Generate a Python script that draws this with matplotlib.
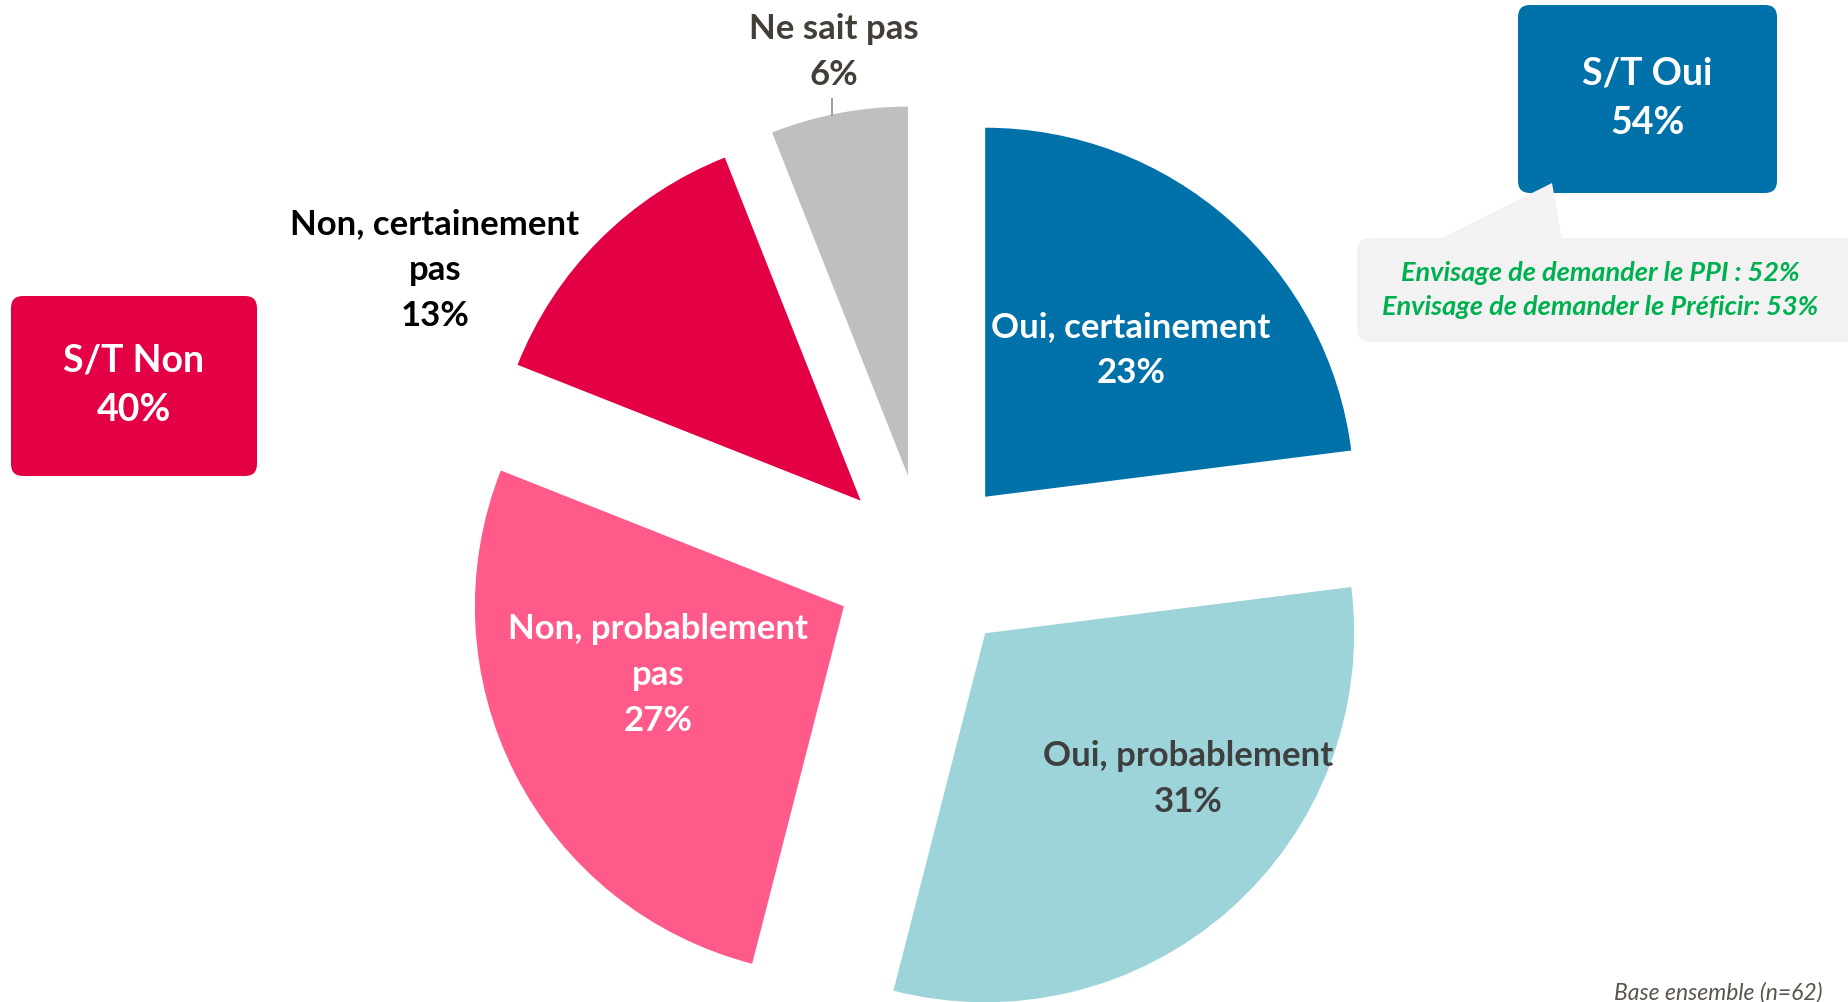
import matplotlib
matplotlib.use("Agg")
import matplotlib.pyplot as plt
from matplotlib.patches import FancyBboxPatch, Polygon

plt.rcParams['font.family'] = ['Lato', 'DejaVu Sans']

W, H = 1848, 1003

labels = ["Oui, certainement", "Oui, probablement", "Non, probablement\npas",
          "Non, certainement\npas", "Ne sait pas"]
values = [23, 31, 27, 13, 6]
colors = ["#0071A9", "#9CD4DA", "#FF5A8A", "#E30045", "#BFBFBF"]
text_colors = ["white", "#3F3F3F", "white", "black", "#433E38"]
# label anchors in pixel space (x, y from top)
label_pos = [(1131, 350), (1188, 779), (658, 675), (435, 270), (834, 52)]

summary_labels = ["S/T Non", "S/T Oui"]
summary_values = [40, 54]
summary_colors = ["#E30045", "#0071A9"]

sub_lines = ["Envisage de demander le PPI : 52%",
             "Envisage de demander le Préficir: 53%"]
base_note = "Base ensemble (n=62)"


def Y(y):
    return H - y


fig = plt.figure(figsize=(W / 100, H / 100), dpi=100)
ax = fig.add_axes([0, 0, 1, 1])

ax.pie(values, colors=colors, startangle=90, counterclock=False,
       explode=[91] * len(values), radius=369, center=(925, Y(566)),
       frame=True, wedgeprops=dict(linewidth=0))
ax.set_xlim(0, W)
ax.set_ylim(0, H)
ax.set_aspect('equal')
ax.axis('off')

for lab, v, c, (x, y) in zip(labels, values, text_colors, label_pos):
    ax.text(x, Y(y), f"{lab}\n{v}%", ha='center', va='center', color=c,
            fontsize=25, fontweight='bold', linespacing=1.52, zorder=5)

# leader for the small slice
ax.plot([832, 832], [Y(100), Y(116)], color='#8C8C8C', lw=1.2, zorder=4)

# summary boxes
boxes = [(11, 297, 246, 180), (1518, 6, 259, 188)]
for (bx, by, bw, bh), lab, v, c in zip(boxes, summary_labels, summary_values, summary_colors):
    ax.add_patch(FancyBboxPatch((bx, Y(by + bh)), bw, bh,
                                boxstyle="round,pad=0,rounding_size=12",
                                fc=c, ec='none', zorder=3))
    ax.text(bx + bw / 2, Y(by + bh / 2 - 2), f"{lab}\n{v}%", ha='center', va='center',
            color='white', fontsize=27, fontweight='bold', linespacing=1.55, zorder=5)

# grey callout under S/T Oui
ax.add_patch(FancyBboxPatch((1357, Y(343)), 520, 104,
                            boxstyle="round,pad=0,rounding_size=14",
                            fc='#F2F2F2', ec='none', zorder=4))
ax.add_patch(Polygon([(1440, Y(240)), (1552, Y(184)), (1562, Y(240))],
                     closed=True, fc='#F2F2F2', ec='none', zorder=4))
for line, y in zip(sub_lines, [273, 307]):
    ax.text(1600, Y(y), line, ha='center', va='center', color='#00B050',
            fontsize=19.5, fontweight='bold', fontstyle='italic', zorder=5)

ax.text(1823, Y(993), base_note, ha='right', va='center', color='#59544C',
        fontsize=16.5, fontstyle='italic')

fig.savefig("out.png", dpi=100)
